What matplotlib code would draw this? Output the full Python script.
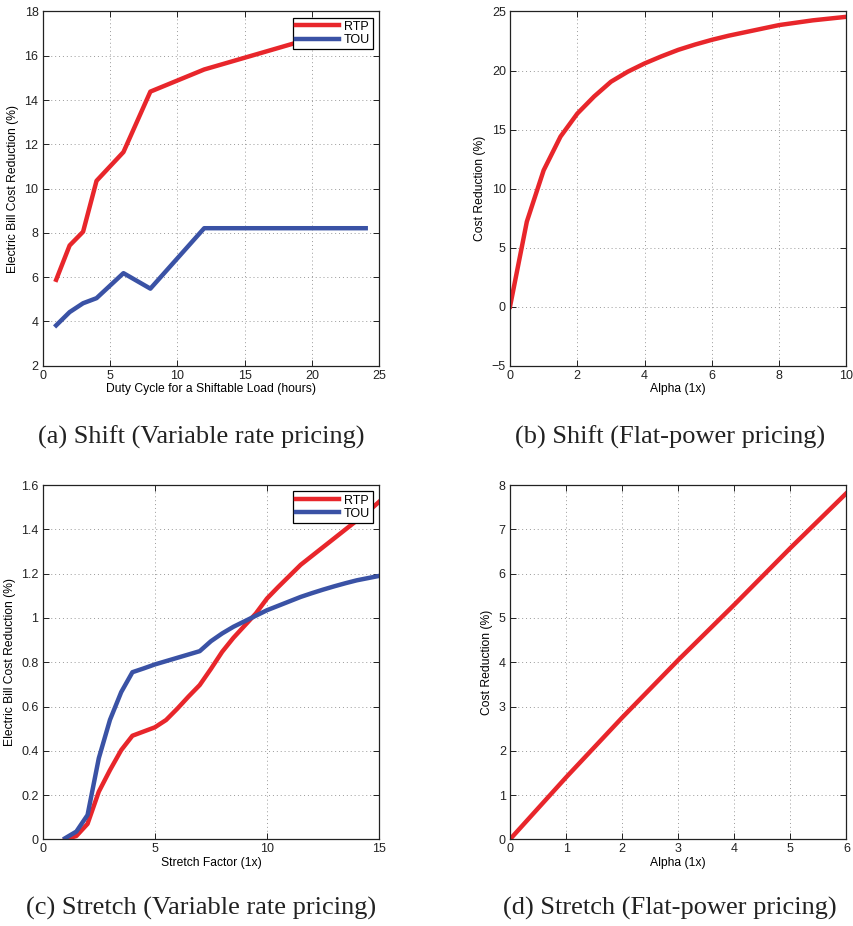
import matplotlib
matplotlib.use("Agg")
import matplotlib.pyplot as plt

# (a) Shift, variable rate pricing
duty_hours = [1, 2, 3, 4, 6, 8, 12, 24]
shift_rtp = [5.88, 7.43, 8.05, 10.35, 11.65, 14.38, 15.38, 17.5]
shift_tou = [3.82, 4.42, 4.82, 5.05, 6.18, 5.48, 8.21, 8.21]

# (b) Shift, flat-power pricing
alpha_shift = [0, 0.5, 1, 1.5, 2, 2.5, 3, 3.5, 4, 4.5, 5, 5.5, 6, 6.5, 7, 7.5,
               8, 8.5, 9, 9.5, 10]
shift_flat = [0, 7.2, 11.55, 14.4, 16.35, 17.8, 19.05, 19.9, 20.6, 21.2, 21.75,
              22.2, 22.6, 22.95, 23.25, 23.55, 23.85, 24.05, 24.25, 24.4, 24.55]

# (c) Stretch, variable rate pricing
stretch_factor = [1, 1.5, 2, 2.5, 3, 3.5, 4, 4.5, 5, 5.5, 6, 6.5, 7, 7.5, 8,
                  8.5, 9, 9.5, 10, 10.5, 11, 11.5, 12, 12.5, 13, 13.5, 14,
                  14.5, 15]
stretch_rtp = [0.0, 0.015, 0.07, 0.215, 0.313, 0.403, 0.468, 0.487, 0.506,
               0.539, 0.59, 0.645, 0.697, 0.77, 0.847, 0.91, 0.965, 1.02,
               1.088, 1.14, 1.19, 1.24, 1.28, 1.32, 1.36, 1.40, 1.44, 1.48,
               1.525]
stretch_tou = [0.005, 0.035, 0.11, 0.366, 0.54, 0.665, 0.755, 0.772, 0.79,
               0.805, 0.82, 0.835, 0.85, 0.895, 0.93, 0.96, 0.985, 1.01,
               1.035, 1.055, 1.075, 1.095, 1.112, 1.128, 1.143, 1.157, 1.17,
               1.18, 1.19]

# (d) Stretch, flat-power pricing
alpha_stretch = [0, 1, 2, 3, 4, 5, 6]
stretch_flat = [0, 1.4, 2.75, 4.05, 5.3, 6.58, 7.82]

captions = ["(a) Shift (Variable rate pricing)",
            "(b) Shift (Flat-power pricing)",
            "(c) Stretch (Variable rate pricing)",
            "(d) Stretch (Flat-power pricing)"]

RED = "#e8262b"
BLUE = "#3a52a5"
LW = 3.2
TICK_FS = 9
LABEL_FS = 8.7

plt.rcParams["font.family"] = ["Liberation Sans", "DejaVu Sans"]
plt.rcParams["font.size"] = 8

fig = plt.figure(figsize=(8.54, 9.26), dpi=100)

W, H = 0.394, 0.3825
ax_a = fig.add_axes([0.050, 0.6051, W, H])
ax_b = fig.add_axes([0.5972, 0.6051, W, H])
ax_c = fig.add_axes([0.050, 0.0936, W, H])
ax_d = fig.add_axes([0.5972, 0.0936, W, H])


def style(ax):
    ax.grid(True, linestyle=(0, (1, 3)), color="#999999", linewidth=0.7)
    ax.tick_params(direction="in", top=True, right=True, length=4,
                   width=0.7, labelsize=TICK_FS, pad=3, colors="#222222")
    for s in ax.spines.values():
        s.set_linewidth(0.9)
        s.set_color("#222222")


def legend(ax):
    leg = ax.legend(loc="upper right", fontsize=9, frameon=True,
                    fancybox=False, framealpha=1, edgecolor="black",
                    handlelength=3.4, borderaxespad=0.5, borderpad=0.25,
                    labelspacing=0.1, handletextpad=0.4)
    leg.get_frame().set_linewidth(0.9)


# (a)
ax_a.plot(duty_hours, shift_rtp, color=RED, lw=LW, label="RTP")
ax_a.plot(duty_hours, shift_tou, color=BLUE, lw=LW, label="TOU")
ax_a.set_xlim(0, 25)
ax_a.set_ylim(2, 18)
ax_a.set_xticks(range(0, 26, 5))
ax_a.set_yticks(range(2, 19, 2))
ax_a.set_xlabel("Duty Cycle for a Shiftable Load (hours)", fontsize=LABEL_FS,
                labelpad=1)
ax_a.set_ylabel("Electric Bill Cost Reduction (%)", fontsize=LABEL_FS,
                labelpad=4)
style(ax_a)
legend(ax_a)

# (b)
ax_b.plot(alpha_shift, shift_flat, color=RED, lw=LW)
ax_b.set_xlim(0, 10)
ax_b.set_ylim(-5, 25)
ax_b.set_xticks(range(0, 11, 2))
ax_b.set_yticks(range(-5, 26, 5))
ax_b.set_yticklabels(["\u22125" if v < 0 else str(v) for v in range(-5, 26, 5)])
ax_b.set_xlabel("Alpha (1x)", fontsize=LABEL_FS, labelpad=1)
ax_b.set_ylabel("Cost Reduction (%)", fontsize=LABEL_FS, labelpad=4)
style(ax_b)

# (c)
ax_c.plot(stretch_factor, stretch_rtp, color=RED, lw=LW, label="RTP")
ax_c.plot(stretch_factor, stretch_tou, color=BLUE, lw=LW, label="TOU")
ax_c.set_xlim(0, 15)
ax_c.set_ylim(0, 1.6)
ax_c.set_xticks(range(0, 16, 5))
ax_c.set_yticks([0, 0.2, 0.4, 0.6, 0.8, 1.0, 1.2, 1.4, 1.6])
ax_c.set_yticklabels(["0", "0.2", "0.4", "0.6", "0.8", "1", "1.2", "1.4",
                      "1.6"])
ax_c.set_xlabel("Stretch Factor (1x)", fontsize=LABEL_FS, labelpad=1)
ax_c.set_ylabel("Electric Bill Cost Reduction (%)", fontsize=LABEL_FS,
                labelpad=4)
style(ax_c)
legend(ax_c)

# (d)
ax_d.plot(alpha_stretch, stretch_flat, color=RED, lw=LW)
ax_d.set_xlim(0, 6)
ax_d.set_ylim(0, 8)
ax_d.set_xticks(range(0, 7))
ax_d.set_yticks(range(0, 9))
ax_d.set_xlabel("Alpha (1x)", fontsize=LABEL_FS, labelpad=1)
ax_d.set_ylabel("Cost Reduction (%)", fontsize=LABEL_FS, labelpad=4)
style(ax_d)

# Sub-figure captions
cap_kw = dict(ha="center", va="center", fontsize=19,
              family=["Liberation Serif", "DejaVu Serif"], color="#222222")
fig.text(201 / 854, 1 - 437 / 926, captions[0], **cap_kw)
fig.text(670 / 854, 1 - 437 / 926, captions[1], **cap_kw)
fig.text(201 / 854, 1 - 908 / 926, captions[2], **cap_kw)
fig.text(670 / 854, 1 - 908 / 926, captions[3], **cap_kw)

fig.savefig("out.png", dpi=100, facecolor="white")
